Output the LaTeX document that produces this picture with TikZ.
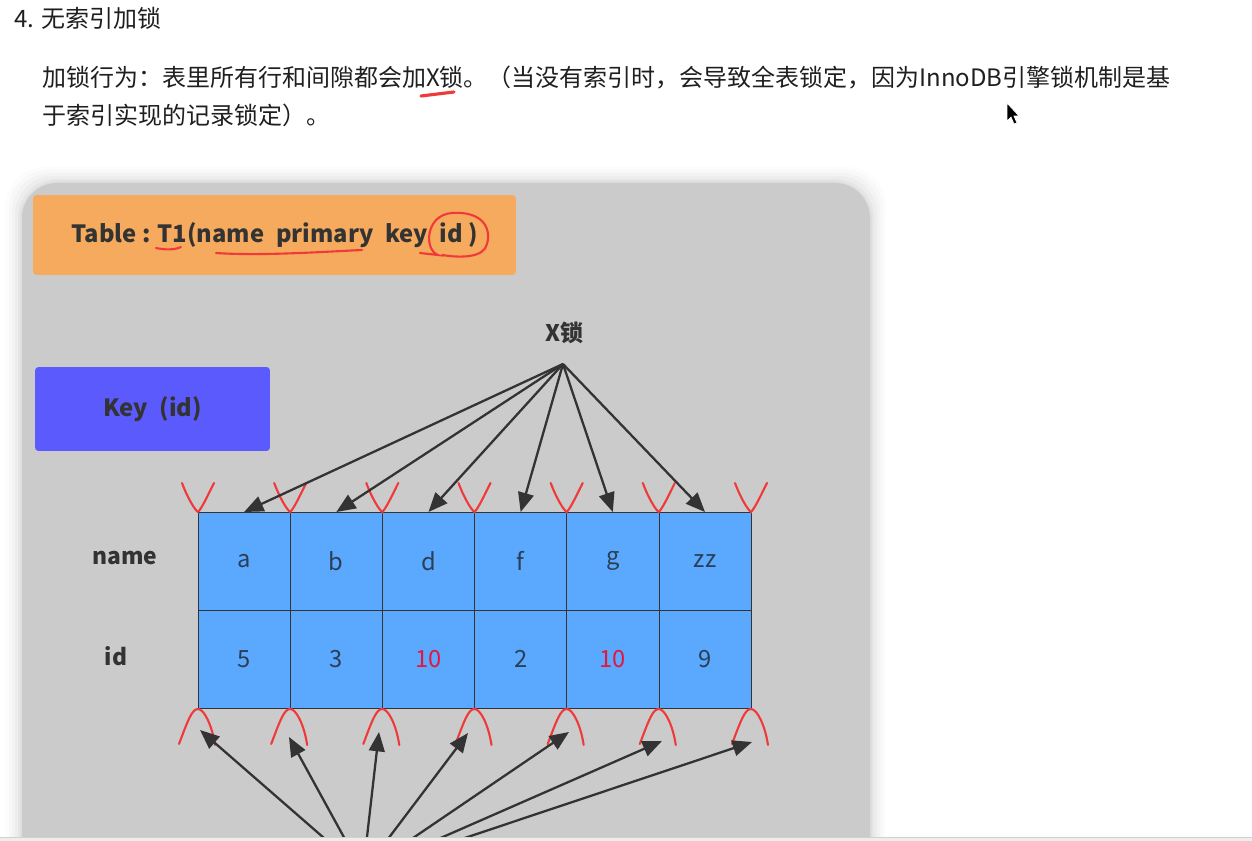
\documentclass[tikz,border=0pt]{standalone}
\usepackage{fontspec}
\setmainfont{Noto Sans CJK SC}
\usetikzlibrary{positioning,arrows.meta,calc}

\definecolor{panelgray}{HTML}{CBCBCB}
\definecolor{tblorange}{HTML}{F5AA5D}
\definecolor{keyblue}{HTML}{5B5BFD}
\definecolor{cellblue}{HTML}{5AA9FF}
\definecolor{inkdark}{HTML}{333333}
\definecolor{celltext}{HTML}{2C3E55}
\definecolor{markred}{HTML}{F03A3A}
\definecolor{valred}{HTML}{E3173E}

\begin{document}
\begin{tikzpicture}[
  x=0.02cm, y=-0.02cm,
  para/.style={anchor=west, inner sep=0pt, font=\fontsize{13.65}{16}\selectfont, text=black!88},
  box/.style={rectangle, rounded corners=2pt, inner sep=0pt, font=\fontsize{13.5}{16}\selectfont\bfseries, text=inkdark},
  cell/.style={rectangle, draw=inkdark, fill=cellblue, minimum width=1.844cm, minimum height=1.96cm, inner sep=0pt, outer sep=0pt, font=\fontsize{13.5}{15}\selectfont, text=celltext},
  rowlabel/.style={font=\fontsize{13}{15}\selectfont\bfseries, text=inkdark},
  arrow/.style={-{Triangle[length=11pt,width=9pt]}, line width=1.3pt, draw=inkdark},
  redmark/.style={draw=markred, line width=1.2pt, line cap=round}
]
\clip (0,0) rectangle (1252,841);

% Page text
\node[para] (heading) at (14,18) {4. 无索引加锁};
\node[para] (line1) at (42,78) {加锁行为：表里所有行和间隙都会加X锁。（当没有索引时，会导致全表锁定，因为InnoDB引擎锁机制是基};
\node[para] (line2) at (42,115) {于索引实现的记录锁定）。};
\draw[markred, line width=1.8pt, line cap=round] (421,96) -- (454,92);
\draw[white, fill=black, line width=0.4pt] (1007,103) -- (1007,121) -- (1011,117) -- (1014,124) -- (1017,123) -- (1014,116) -- (1019,116) -- cycle;

% Panel with soft shadow
\foreach \s/\o in {16/0.012, 13/0.015, 10/0.02, 7/0.025, 4/0.03, 2/0.035}
  \fill[black, opacity=\o, rounded corners=22] (22-\s,183-\s) rectangle (870+\s,920);
\fill[panelgray, rounded corners=20] (22,183) rectangle (870,920);

% Boxes
\node[box, fill=tblorange, minimum width=9.66cm, minimum height=1.6cm] (tbl) at (274.5,235)
  {Table : T1(name\enspace primary\enspace key\enspace id )};
\node[box, fill=keyblue, minimum width=4.7cm, minimum height=1.68cm] (keybox) at (152.5,409)
  {Key\enspace(id)};
\node[rowlabel] (xlock) at (564,333) {X锁};
\coordinate (xsrc) at (563,364);

% Hand marks on the title
\draw[redmark] (156,248) .. controls (165,250) and (175,250) .. (181,247);
\draw[redmark] (216,253) .. controls (260,256) and (320,252) .. (362,250);
\draw[redmark] (420,253) -- (438,255) .. controls (424,250) and (425,215) .. (452,213)
  .. controls (480,211) and (492,226) .. (487,244) .. controls (484,258) and (460,258) .. (442,255);

% Table rows
\node[rowlabel] (lname) at (125,558) {name};
\node[rowlabel] (lid) at (116,656) {id};

\node[cell] (n1) at (244.1,561) {a};
\node[cell, right=0pt of n1] (n2) {b};
\node[cell, right=0pt of n2] (n3) {d};
\node[cell, right=0pt of n3] (n4) {f};
\node[cell, right=0pt of n4] (n5) {g};
\node[cell, right=0pt of n5] (n6) {zz};

\node[cell, below=0pt of n1] (i1) {5};
\node[cell, right=0pt of i1] (i2) {3};
\node[cell, right=0pt of i2, text=valred] (i3) {10};
\node[cell, right=0pt of i3] (i4) {2};
\node[cell, right=0pt of i4, text=valred] (i5) {10};
\node[cell, right=0pt of i5] (i6) {9};

% Gap marks
\foreach \bx in {198,290.2,382.3,474.5,566.7,658.8,751} {
  \draw[redmark] (\bx-16,483) .. controls (\bx-10,499) and (\bx-3,510) .. (\bx,512)
    .. controls (\bx+4,508) and (\bx+10,495) .. (\bx+16,483);
  \draw[redmark] (\bx-19,744) .. controls (\bx-10,720) and (\bx-6,709) .. (\bx,709)
    .. controls (\bx+6,709) and (\bx+14,725) .. (\bx+17,745);
}

% Arrows from X lock
\draw[arrow] (xsrc) -- (n1.north);
\draw[arrow] (xsrc) -- (n2.north);
\draw[arrow] (xsrc) -- (n3.north);
\draw[arrow] (xsrc) -- (n4.north);
\draw[arrow] (xsrc) -- (n5.north);
\draw[arrow] (xsrc) -- (n6.north);

% Arrows into the gaps
\coordinate (gsrc) at (363,872);
\coordinate (gap0) at (200,730);
\coordinate (gap1) at (289,737);
\coordinate (gap2) at (379,732);
\coordinate (gap3) at (468,733);
\coordinate (gap4) at (569,732);
\coordinate (gap5) at (662,741);
\coordinate (gap6) at (752,742);
\draw[arrow] (gsrc) -- (gap0);
\draw[arrow] (gsrc) -- (gap1);
\draw[arrow] (gsrc) -- (gap2);
\draw[arrow] (gsrc) -- (gap3);
\draw[arrow] (gsrc) -- (gap4);
\draw[arrow] (gsrc) -- (gap5);
\draw[arrow] (gsrc) -- (gap6);

% Screen edge
\fill[black!7] (0,837) rectangle (1252,841);
\draw[black!18, line width=0.3pt] (0,837) -- (1252,837);
\end{tikzpicture}
\end{document}
